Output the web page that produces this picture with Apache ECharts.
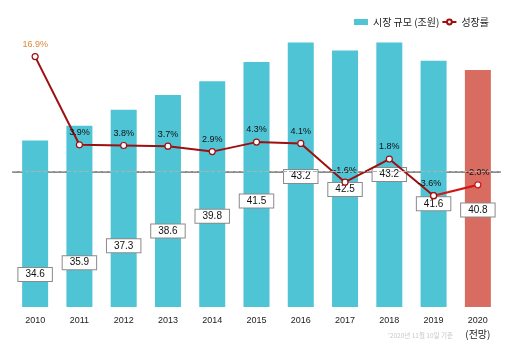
<!DOCTYPE html>
<html>
<head>
<meta charset="utf-8">
<script src="https://cdn.jsdelivr.net/npm/echarts@6/dist/echarts.min.js"></script>
<style>
html,body{margin:0;padding:0;background:#fff;}
#chart{width:506px;height:350px;}
</style>
</head>
<body>
<div id="chart"></div>
<script>
// ---- data ----
const years = ['2010','2011','2012','2013','2014','2015','2016','2017','2018','2019','2020'];
const marketSize = [34.6, 35.9, 37.3, 38.6, 39.8, 41.5, 43.2, 42.5, 43.2, 41.6, 40.8];
const growthRate = [16.9, 3.9, 3.8, 3.7, 2.9, 4.3, 4.1, -1.6, 1.8, -3.6, -2.0];
const forecastLabel = '(전망)';
const legendBar = '시장 규모 (조원)';
const legendLine = '성장률';
const footnote = "'2020년 11월 10일 기준";

// ---- styling ----
const barBlue = '#4FC4D5';
const barRed = '#D96C61';
const lineDark = '#9E0F12';
const lineBright = '#D01818';
const labelDrop = [134, 137, 136, 136, 135, 139, 134, 139, 132, 143, 140];
const lineLabelOffset = [[0,0],[0,0],[0,0],[0,0],[0,0],[0,0],[0,0],[0,0],[0,0],[-4,0],[0,0]];

const chart = echarts.init(document.getElementById('chart'), null, {renderer: 'canvas'});

const barData = marketSize.map((v, i) => {
  const item = {
    value: v,
    label: {offset: [0, labelDrop[i] - 6.5]}
  };
  if (i === marketSize.length - 1) item.itemStyle = {color: barRed};
  return item;
});

const n = years.length;
const mainLine = growthRate.map((v, i) => i < n - 1 ? {
  value: v,
  label: {
    offset: lineLabelOffset[i],
    color: i === 0 ? '#E0863A' : '#111'
  }
} : null);
const fcLine = growthRate.map((v, i) => i >= n - 2 ? {
  value: v,
  label: {show: i === n - 1}
} : null);

const pctFmt = p => p.value.toFixed(1) + '%';

chart.setOption({
  animation: false,
  backgroundColor: '#fff',
  textStyle: {fontFamily: '"Noto Sans CJK KR", "Liberation Sans", sans-serif'},
  grid: {left: 13, right: 6, top: 22, bottom: 43},
  legend: {
    right: 12, top: 12,
    itemWidth: 14, itemHeight: 6, itemGap: 2,
    textStyle: {fontSize: 10, color: '#222', fontFamily: '"Noto Sans CJK KR", sans-serif'},
    data: [
      {name: legendBar, icon: 'rect'},
      {name: legendLine, itemStyle: {color: '#fff', borderColor: lineDark}, lineStyle: {color: lineDark}}
    ]
  },
  xAxis: {
    type: 'category',
    data: years,
    axisTick: {show: false},
    axisLine: {lineStyle: {color: '#8c8c8c', width: 2}},
    axisLabel: {
      interval: 0,
      margin: 9,
      fontSize: 9,
      color: '#222',
      fontFamily: '"Liberation Sans", sans-serif',
      formatter: v => v === years[n - 1] ? v + '\n{f|' + forecastLabel + '}' : v,
      rich: {
        f: {fontSize: 10, fontFamily: '"Noto Sans CJK KR", sans-serif', color: '#222', lineHeight: 16, padding: [2,0,0,0]}
      }
    }
  },
  yAxis: [
    {type: 'value', min: 20, max: 45, interval: 5, show: false, splitLine: {show: false}},
    {type: 'value', min: -20, max: 22, interval: 2, show: false, splitLine: {show: false}}
  ],
  graphic: [{
    type: 'text',
    left: 388, top: 332,
    style: {text: footnote, fill: '#c8c8c8', fontSize: 6.5, fontFamily: '"Noto Sans CJK KR", sans-serif'}
  }],
  series: [
    {
      name: legendBar,
      type: 'bar',
      data: barData,
      barWidth: 26,
      itemStyle: {color: barBlue},
      label: {
        show: true,
        position: 'insideTop',
        distance: 0,
        formatter: p => p.value.toFixed(1),
        color: '#111',
        fontSize: 10,
        fontFamily: '"Liberation Sans", sans-serif',
        lineHeight: 11,
        backgroundColor: '#fff',
        borderColor: '#8a8a8a',
        borderWidth: 1,
        padding: [1, 7, 1, 7]
      },
      z: 2
    },
    {
      name: legendLine,
      type: 'line',
      yAxisIndex: 1,
      data: mainLine,
      symbol: 'circle',
      symbolSize: 6,
      itemStyle: {color: '#fff', borderColor: lineDark, borderWidth: 1.2},
      lineStyle: {color: lineDark, width: 2},
      label: {
        show: true, position: 'top', distance: 4,
        fontSize: 9, fontFamily: '"Liberation Sans", sans-serif',
        formatter: pctFmt
      },
      markLine: {
        silent: true,
        symbol: 'none',
        label: {show: false},
        lineStyle: {type: 'dashed', color: '#b0b0b0', width: 1},
        data: [{yAxis: 0}]
      },
      z: 4
    },
    {
      name: 'forecast',
      type: 'line',
      yAxisIndex: 1,
      data: fcLine,
      symbol: 'circle',
      symbolSize: 6,
      itemStyle: {color: '#fff', borderColor: lineBright, borderWidth: 1.2},
      lineStyle: {color: lineBright, width: 2.2},
      label: {
        show: true, position: 'top', distance: 4,
        fontSize: 9, color: '#111', fontFamily: '"Liberation Sans", sans-serif',
        formatter: pctFmt
      },
      z: 3
    }
  ]
});
</script>
</body>
</html>
